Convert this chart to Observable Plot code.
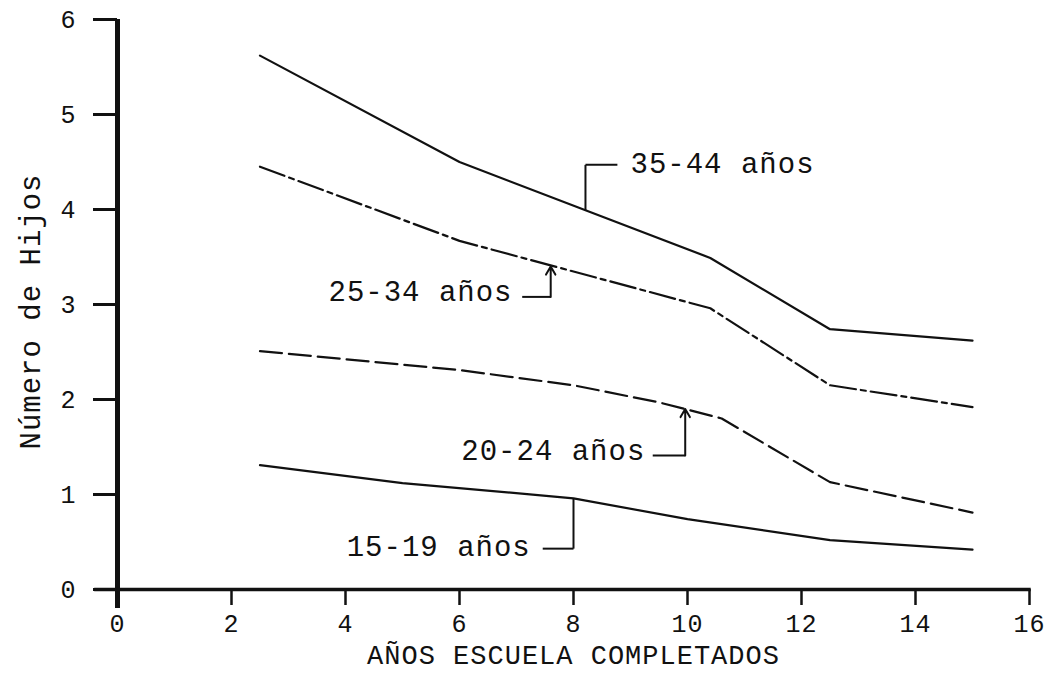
<!DOCTYPE html>
<html>
<head>
<meta charset="utf-8">
<script src="https://cdn.jsdelivr.net/npm/d3@7"></script>
<script src="https://cdn.jsdelivr.net/npm/@observablehq/plot@0.6"></script>
<style>
  html, body { margin: 0; padding: 0; background: #fff; }
  svg text { letter-spacing: 1px; }
  g[aria-label="x-axis tick label"], g[aria-label="y-axis tick label"] { font-size: 25px; }
</style>
</head>
<body>
<div id="chart"></div>
<script>
// ---- tick labels ----
const xTicks = [0, 2, 4, 6, 8, 10, 12, 14, 16];
const yTicks = [0, 1, 2, 3, 4, 5, 6];
const xTitle = "AÑOS ESCUELA COMPLETADOS";
const yTitle = "Número de Hijos";

// ---- series (age groups) ----
const series = ["35-44 años", "25-34 años", "20-24 años", "15-19 años"];
const x3544 = [2.5, 6, 10.4, 12.5, 15];
const y3544 = [5.62, 4.50, 3.49, 2.74, 2.62];
const x2534 = [2.5, 6, 10.4, 12.5, 15];
const y2534 = [4.45, 3.67, 2.96, 2.15, 1.92];
const x2024 = [2.5, 6, 8, 9.5, 10.6, 12.5, 15];
const y2024 = [2.51, 2.31, 2.15, 1.97, 1.80, 1.13, 0.81];
const x1519 = [2.5, 5, 8, 10, 12.5, 15];
const y1519 = [1.31, 1.12, 0.96, 0.74, 0.52, 0.42];

// ---- annotation anchors (data units) ----
const labelX = [9.0, 6.93, 9.26, 7.25];
const labelY = [4.48, 3.13, 1.46, 0.45];
const leaderFromX = [8.77, 7.10, 9.39, 7.46];
const leaderY = [4.47, 3.08, 1.41, 0.43];
const targetX = [8.21, 7.60, 9.96, 8.00];
const targetY = [3.99, 3.40, 1.90, 0.96];
const labelAnchor = ["start", "end", "end", "end"];
const hasArrow = [false, true, true, false];

const xs = [x3544, x2534, x2024, x1519];
const ys = [y3544, y2534, y2024, y1519];
const dashes = [null, "26,5,5,5", "22,7", null];

const ink = "#111";
const font = "Liberation Mono";

const lineMarks = series.map((s, i) => {
  const rows = xs[i].map((x, j) => ({serie: s, x, y: ys[i][j]}));
  return Plot.line(rows, {
    x: "x", y: "y", stroke: ink, strokeWidth: 2.2,
    strokeDasharray: dashes[i] || undefined, curve: "linear"
  });
});

const ann = series.map((s, i) => ({
  text: s, lx: labelX[i], ly: labelY[i], fx: leaderFromX[i], hy: leaderY[i],
  tx: targetX[i], ty: targetY[i], anchor: labelAnchor[i], arrow: hasArrow[i]
}));

const chart = Plot.plot({
  width: 1047,
  height: 674,
  marginLeft: 117,
  marginRight: 18,
  marginTop: 19,
  marginBottom: 85,
  style: {fontFamily: font, color: ink, background: "#fff", overflow: "visible"},
  x: {domain: [0, 16]},
  y: {domain: [0, 6]},
  marks: [
    // axes
    Plot.axisX(xTicks, {tickSize: 16, tickPadding: 9, fontSize: 25, strokeWidth: 2.5, stroke: ink, fill: ink, label: null, tickFormat: d => String(d)}),
    Plot.axisY(yTicks, {tickSize: 24, tickPadding: 17, fontSize: 25, strokeWidth: 3, stroke: ink, fill: ink, label: null, tickFormat: d => String(d)}),
    Plot.ruleY([0], {x1: -0.4, x2: 16.03, stroke: ink, strokeWidth: 3.5}),
    Plot.ruleX([0], {y1: -0.2, y2: 6, stroke: ink, strokeWidth: 5}),
    Plot.text([yTitle], {text: d => d, frameAnchor: "left", textAnchor: "middle", lineAnchor: "middle", rotate: -90, dx: -87, dy: 7, fontSize: 29, fill: ink}),
    Plot.text([xTitle], {text: d => d, frameAnchor: "bottom", textAnchor: "middle", lineAnchor: "middle", dy: 66, fontSize: 27, fill: ink}),
    // series lines
    ...lineMarks,
    // annotation labels and leaders
    Plot.text(ann.filter(d => d.anchor === "start"), {x: "lx", y: "ly", text: "text", textAnchor: "start", fontSize: 29, fill: ink}),
    Plot.text(ann.filter(d => d.anchor === "end"), {x: "lx", y: "ly", text: "text", textAnchor: "end", fontSize: 29, fill: ink}),
    Plot.link(ann, {x1: "fx", y1: "hy", x2: "tx", y2: "hy", stroke: ink, strokeWidth: 2}),
    Plot.link(ann.filter(d => !d.arrow), {x1: "tx", y1: "hy", x2: "tx", y2: "ty", stroke: ink, strokeWidth: 2}),
    Plot.arrow(ann.filter(d => d.arrow), {x1: "tx", y1: "hy", x2: "tx", y2: "ty", stroke: ink, strokeWidth: 2, headLength: 7, bend: 0})
  ]
});

document.getElementById("chart").appendChild(chart);
</script>
</body>
</html>
